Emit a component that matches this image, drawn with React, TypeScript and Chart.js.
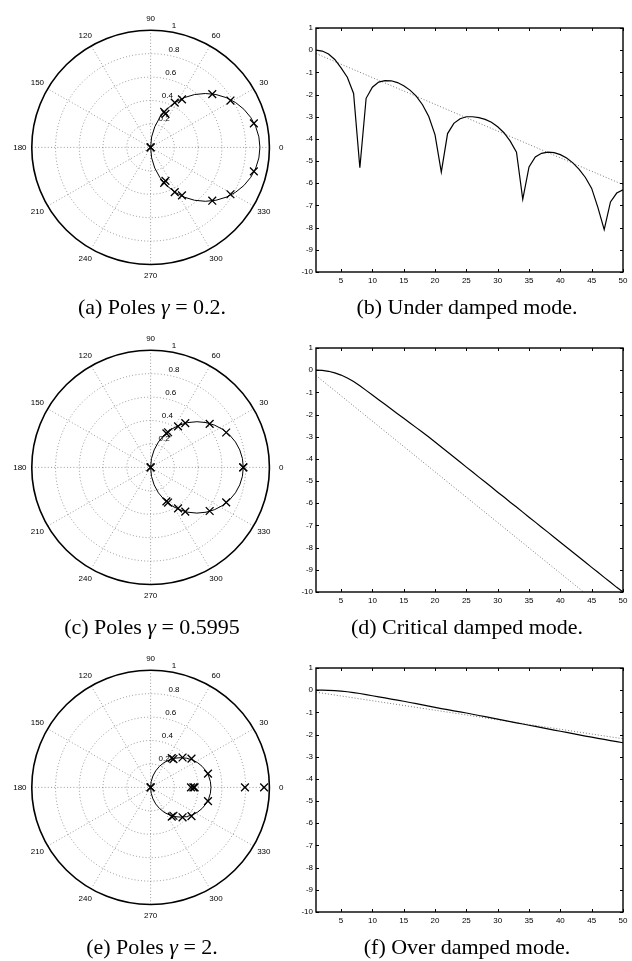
import React, { useEffect, useRef } from "react";
import { Chart, registerables } from "chart.js";

Chart.register(...registerables);

// ---------- data ----------
const STEPS = [1, 2, 3, 4, 5, 6, 7, 8, 9, 10, 11, 12, 13, 14, 15, 16, 17, 18, 19, 20, 21, 22, 23, 24, 25, 26, 27, 28, 29, 30, 31, 32, 33, 34, 35, 36, 37, 38, 39, 40, 41, 42, 43, 44, 45, 46, 47, 48, 49, 50];

const UNDER_SOLID = [0, -0.04, -0.17, -0.42, -0.8, -1.22, -1.95, -5.3, -2.17, -1.67, -1.44, -1.37, -1.38, -1.46, -1.6, -1.8, -2.07, -2.46, -2.99, -3.82, -5.5, -3.76, -3.3, -3.09, -3.0, -3.0, -3.04, -3.12, -3.25, -3.45, -3.72, -4.1, -4.6, -6.72, -5.26, -4.81, -4.65, -4.6, -4.62, -4.71, -4.86, -5.08, -5.37, -5.74, -6.23, -7.1, -8.09, -6.84, -6.44, -6.29];
const UNDER_DOT_X = [1, 50];
const UNDER_DOT_Y = [-0.15, -6.06];

const CRIT_SOLID = [0, -0.01, -0.05, -0.12, -0.22, -0.35, -0.51, -0.7, -0.91, -1.12, -1.33, -1.54, -1.75, -1.96, -2.17, -2.38, -2.59, -2.8, -3.01, -3.24, -3.46, -3.69, -3.91, -4.14, -4.37, -4.59, -4.82, -5.04, -5.27, -5.5, -5.72, -5.95, -6.17, -6.4, -6.63, -6.85, -7.08, -7.3, -7.53, -7.76, -7.98, -8.21, -8.43, -8.66, -8.89, -9.11, -9.34, -9.56, -9.79, -10.0];
const CRIT_DOT_X = [1, 50];
const CRIT_DOT_Y = [-0.24, -11.44];

const OVER_SOLID = [0, 0, -0.005, -0.02, -0.04, -0.07, -0.11, -0.15, -0.2, -0.25, -0.3, -0.35, -0.4, -0.45, -0.5, -0.555, -0.61, -0.665, -0.72, -0.775, -0.83, -0.88, -0.93, -0.98, -1.03, -1.085, -1.14, -1.195, -1.25, -1.305, -1.36, -1.415, -1.47, -1.525, -1.58, -1.635, -1.69, -1.745, -1.8, -1.85, -1.905, -1.96, -2.015, -2.07, -2.12, -2.17, -2.22, -2.27, -2.32, -2.37];
const OVER_DOT_X = [1, 50];
const OVER_DOT_Y = [-0.09, -2.19];

const X_TICKS = [5, 10, 15, 20, 25, 30, 35, 40, 45, 50];
const Y_TICKS = [1, 0, -1, -2, -3, -4, -5, -6, -7, -8, -9, -10];

// poles (real, imag)
const POLES_A_RE = [0, 0, 0.114, 0.125, 0.203, 0.264, 0.519, 0.672, 0.869, 0.114, 0.125, 0.203, 0.264, 0.519, 0.672, 0.869];
const POLES_A_IM = [0, 0, 0.303, 0.286, 0.382, 0.41, 0.455, 0.4, 0.205, -0.303, -0.286, -0.382, -0.41, -0.455, -0.4, -0.205];

const POLES_C_RE = [0, 0, 0.78, 0.78, 0.133, 0.147, 0.231, 0.292, 0.497, 0.636, 0.133, 0.147, 0.231, 0.292, 0.497, 0.636];
const POLES_C_IM = [0, 0, 0, 0, 0.29, 0.3, 0.35, 0.378, 0.372, 0.298, -0.29, -0.3, -0.35, -0.378, -0.372, -0.298];

const POLES_E_RE = [0, 0, 0.34, 0.36, 0.37, 0.794, 0.955, 0.178, 0.192, 0.269, 0.344, 0.483, 0.178, 0.192, 0.269, 0.344, 0.483];
const POLES_E_IM = [0, 0, 0, 0, 0, 0, 0, 0.25, 0.242, 0.255, 0.245, 0.117, -0.25, -0.242, -0.255, -0.245, -0.117];

// locus circle through the poles: [center on real axis, radius]
const LOCUS_A = [0.46, 0.46];
const LOCUS_C = [0.39, 0.39];
const LOCUS_E = [0.254, 0.254];

const RINGS = [0.2, 0.4, 0.6, 0.8];
const SPOKES = [0, 30, 60, 90, 120, 150];
const ANGLE_LABELS = [0, 30, 60, 90, 120, 150, 180, 210, 240, 270, 300, 330];
const RADIUS_LABELS = [0.2, 0.4, 0.6, 0.8, 1];

const TICK_FONT = "'Liberation Sans', Arial, Helvetica, sans-serif";
const CAPTION_FONT = "'Liberation Serif', 'Times New Roman', serif";

// ---------- plugins ----------
const polarGrid = {
  id: "polarGrid",
  beforeDatasetsDraw(chart: any) {
    const { ctx, scales } = chart;
    const xs = scales.x, ys = scales.y;
    const cx = xs.getPixelForValue(0), cy = ys.getPixelForValue(0);
    const rx = xs.getPixelForValue(1) - cx;
    const ry = cy - ys.getPixelForValue(1);
    const locus = chart.options.plugins.polarGrid.locus;
    ctx.save();
    ctx.strokeStyle = "rgba(0,0,0,0.5)";
    ctx.lineWidth = 0.8;
    ctx.setLineDash([1, 2.2]);
    RINGS.forEach((r) => {
      ctx.beginPath();
      ctx.ellipse(cx, cy, rx * r, ry * r, 0, 0, Math.PI * 2);
      ctx.stroke();
    });
    SPOKES.forEach((a) => {
      const t = (a * Math.PI) / 180;
      ctx.beginPath();
      ctx.moveTo(cx - rx * Math.cos(t), cy + ry * Math.sin(t));
      ctx.lineTo(cx + rx * Math.cos(t), cy - ry * Math.sin(t));
      ctx.stroke();
    });
    ctx.setLineDash([]);
    ctx.strokeStyle = "#000";
    ctx.lineWidth = 1.6;
    ctx.beginPath();
    ctx.ellipse(cx, cy, rx, ry, 0, 0, Math.PI * 2);
    ctx.stroke();
    ctx.lineWidth = 1;
    ctx.beginPath();
    ctx.ellipse(xs.getPixelForValue(locus[0]), cy, rx * locus[1], ry * locus[1], 0, 0, Math.PI * 2);
    ctx.stroke();
    ctx.fillStyle = "#000";
    ctx.font = `8px ${TICK_FONT}`;
    ctx.textAlign = "center";
    ctx.textBaseline = "middle";
    ANGLE_LABELS.forEach((a) => {
      const t = (a * Math.PI) / 180;
      ctx.fillText(String(a), cx + 1.1 * rx * Math.cos(t), cy - 1.1 * ry * Math.sin(t));
    });
    ctx.textAlign = "left";
    ctx.textBaseline = "bottom";
    const t82 = (82 * Math.PI) / 180;
    RADIUS_LABELS.forEach((r) => {
      const rr = r + 0.01;
      ctx.fillText("  " + String(r), cx + rr * rx * Math.cos(t82), cy - rr * ry * Math.sin(t82));
    });
    ctx.restore();
  },
};

const frame = {
  id: "frame",
  afterDatasetsDraw(chart: any) {
    const { ctx, chartArea: a, scales } = chart;
    ctx.save();
    ctx.strokeStyle = "#000";
    ctx.lineWidth = 1;
    const tl = 3;
    ctx.beginPath();
    X_TICKS.forEach((v) => {
      const px = Math.round(scales.x.getPixelForValue(v)) + 0.5;
      ctx.moveTo(px, a.bottom);
      ctx.lineTo(px, a.bottom - tl);
      ctx.moveTo(px, a.top);
      ctx.lineTo(px, a.top + tl);
    });
    Y_TICKS.forEach((v) => {
      const py = Math.round(scales.y.getPixelForValue(v)) + 0.5;
      ctx.moveTo(a.left, py);
      ctx.lineTo(a.left + tl, py);
      ctx.moveTo(a.right, py);
      ctx.lineTo(a.right - tl, py);
    });
    ctx.stroke();
    ctx.lineWidth = 1.4;
    ctx.strokeRect(a.left, a.top, a.right - a.left, a.bottom - a.top);
    ctx.restore();
  },
};

// ---------- components ----------
function PolarPlot({ top, re, im, locus }: { top: number; re: number[]; im: number[]; locus: number[] }) {
  const ref = useRef<HTMLCanvasElement>(null);
  useEffect(() => {
    const chart = new Chart(ref.current as HTMLCanvasElement, {
      type: "scatter",
      data: {
        datasets: [
          {
            data: re.map((x, i) => ({ x, y: im[i] })),
            pointStyle: "crossRot",
            pointRadius: 5.5,
            pointBorderColor: "#000",
            pointBorderWidth: 1.3,
            pointBackgroundColor: "transparent",
            showLine: false,
          } as any,
        ],
      },
      options: {
        animation: false,
        responsive: false,
        events: [],
        layout: { padding: { left: 8, top: 0, right: 4, bottom: 12 } },
        plugins: { legend: { display: false }, tooltip: { enabled: false }, polarGrid: { locus } } as any,
        scales: {
          x: { type: "linear", min: -1.2, max: 1.2, display: false },
          y: { type: "linear", min: -1.2, max: 1.2, display: false },
        },
      },
      plugins: [polarGrid],
    });
    return () => chart.destroy();
  }, []);
  return <canvas ref={ref} width={300} height={300} style={{ position: "absolute", left: 0, top }} />;
}

function LinePlot({ top, solid, dotX, dotY }: { top: number; solid: number[]; dotX: number[]; dotY: number[] }) {
  const ref = useRef<HTMLCanvasElement>(null);
  useEffect(() => {
    const tickFont = { family: TICK_FONT, size: 8 };
    const chart = new Chart(ref.current as HTMLCanvasElement, {
      type: "line",
      data: {
        datasets: [
          {
            data: STEPS.map((x, i) => ({ x, y: solid[i] })),
            borderColor: "#000",
            borderWidth: 1.2,
            pointRadius: 0,
            tension: 0,
          },
          {
            data: dotX.map((x, i) => ({ x, y: dotY[i] })),
            borderColor: "#777",
            borderWidth: 1,
            borderDash: [1, 2],
            pointRadius: 0,
            tension: 0,
          },
        ],
      },
      options: {
        animation: false,
        responsive: false,
        events: [],
        layout: { padding: { left: 0, top: 8, right: 9, bottom: 0 } },
        plugins: { legend: { display: false }, tooltip: { enabled: false } },
        scales: {
          x: {
            type: "linear",
            min: 1,
            max: 50,
            grid: { display: false, drawTicks: false },
            border: { display: false },
            afterBuildTicks: (s: any) => {
              s.ticks = X_TICKS.map((v) => ({ value: v }));
            },
            afterFit: (s: any) => {
              s.height = 16;
            },
            ticks: { font: tickFont, color: "#000", padding: 4, maxRotation: 0, autoSkip: false },
          },
          y: {
            type: "linear",
            min: -10,
            max: 1,
            grid: { display: false, drawTicks: false },
            border: { display: false },
            afterBuildTicks: (s: any) => {
              s.ticks = Y_TICKS.map((v) => ({ value: v }));
            },
            afterFit: (s: any) => {
              s.width = 26;
            },
            ticks: {
              font: tickFont,
              color: "#000",
              padding: 3,
              autoSkip: false,
              callback: (v: any) => (v < 0 ? "-" + Math.abs(v) : String(v)),
            },
          },
        },
      },
      plugins: [frame],
    });
    return () => chart.destroy();
  }, []);
  return <canvas ref={ref} width={342} height={268} style={{ position: "absolute", left: 290, top }} />;
}

function Caption({ left, top, children }: { left: number; top: number; children: any }) {
  return (
    <div
      style={{
        position: "absolute",
        left: left - 160,
        top: top - 12,
        width: 320,
        height: 24,
        lineHeight: "24px",
        textAlign: "center",
        fontFamily: CAPTION_FONT,
        fontSize: 22,
        color: "#000",
        whiteSpace: "nowrap",
      }}
    >
      {children}
    </div>
  );
}

const Gamma = () => <i>γ</i>;

export default function App() {
  return (
    <div style={{ position: "absolute", left: 0, top: 0, width: 632, height: 961, background: "#fff", overflow: "hidden" }}>
      <PolarPlot top={0} re={POLES_A_RE} im={POLES_A_IM} locus={LOCUS_A} />
      <LinePlot top={20} solid={UNDER_SOLID} dotX={UNDER_DOT_X} dotY={UNDER_DOT_Y} />
      <Caption left={152} top={307}>(a) Poles <Gamma /> = 0.2.</Caption>
      <Caption left={467} top={307}>(b) Under damped mode.</Caption>

      <PolarPlot top={320} re={POLES_C_RE} im={POLES_C_IM} locus={LOCUS_C} />
      <LinePlot top={340} solid={CRIT_SOLID} dotX={CRIT_DOT_X} dotY={CRIT_DOT_Y} />
      <Caption left={152} top={627}>(c) Poles <Gamma /> = 0.5995</Caption>
      <Caption left={467} top={627}>(d) Critical damped mode.</Caption>

      <PolarPlot top={640} re={POLES_E_RE} im={POLES_E_IM} locus={LOCUS_E} />
      <LinePlot top={660} solid={OVER_SOLID} dotX={OVER_DOT_X} dotY={OVER_DOT_Y} />
      <Caption left={152} top={947}>(e) Poles <Gamma /> = 2.</Caption>
      <Caption left={467} top={947}>(f) Over damped mode.</Caption>
    </div>
  );
}
